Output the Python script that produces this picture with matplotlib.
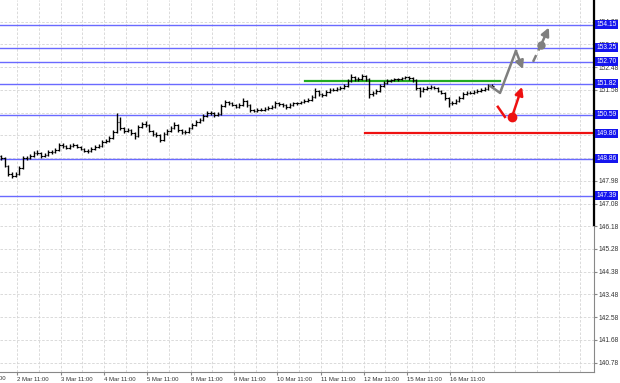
import matplotlib
matplotlib.use("Agg")
import matplotlib.pyplot as plt
from matplotlib.transforms import blended_transform_factory

plt.rcParams['font.family'] = ['Liberation Sans', 'DejaVu Sans']

# 2-hour bars, x = hours from the "2 Mar 11:00" tick
bar_hours = [-9 + 2 * i for i in range(137)]
first_open = 148.95
closes = [148.89, 148.57, 148.26, 148.18, 148.26, 148.49, 148.89, 148.89, 148.97, 149.09,
          149.09, 148.97, 149.01, 149.13, 149.13, 149.21, 149.40, 149.36, 149.29, 149.36,
          149.40, 149.32, 149.25, 149.17, 149.17, 149.25, 149.32, 149.36, 149.52, 149.56,
          149.68, 149.92, 150.31, 150.07, 149.96, 150.00, 149.88, 149.76, 150.12, 150.23,
          150.20, 149.96, 149.84, 149.80, 149.60, 149.84, 149.96, 150.07, 150.20, 150.00,
          149.92, 149.92, 150.07, 150.20, 150.31, 150.39, 150.55, 150.67, 150.67, 150.59,
          150.63, 150.95, 151.10, 151.06, 150.99, 150.91, 150.99, 151.14, 150.99, 150.79,
          150.75, 150.79, 150.79, 150.83, 150.87, 150.91, 151.06, 151.02, 150.99, 150.91,
          150.99, 151.06, 151.06, 151.10, 151.14, 151.18, 151.30, 151.54, 151.42, 151.38,
          151.50, 151.58, 151.58, 151.62, 151.66, 151.74, 151.94, 152.09, 152.01, 152.01,
          152.13, 152.01, 151.42, 151.46, 151.54, 151.74, 151.86, 151.94, 151.97, 152.01,
          152.01, 152.05, 152.09, 152.05, 151.97, 151.66, 151.54, 151.62, 151.66, 151.70,
          151.66, 151.54, 151.46, 151.26, 151.06, 151.06, 151.14, 151.26, 151.42, 151.46,
          151.46, 151.50, 151.54, 151.58, 151.62, 151.74, 151.74]
highs = [149.02, 148.93, 148.62, 148.31, 148.33, 148.55, 148.96, 148.98, 149.05, 149.17,
         149.19, 149.12, 149.08, 149.20, 149.21, 149.28, 149.48, 149.47, 149.41, 149.44,
         149.48, 149.45, 149.37, 149.29, 149.25, 149.31, 149.39, 149.43, 149.59, 149.64,
         149.76, 150.01, 150.67, 150.52, 150.11, 150.08, 150.05, 149.92, 150.18, 150.32,
         150.35, 150.24, 150.00, 149.90, 149.84, 149.90, 150.03, 150.14, 150.30, 150.24,
         150.05, 150.00, 150.13, 150.27, 150.38, 150.47, 150.62, 150.75, 150.74, 150.70,
         150.70, 151.02, 151.18, 151.15, 151.10, 151.03, 151.06, 151.24, 151.19, 151.03,
         150.84, 150.86, 150.86, 150.89, 150.93, 150.98, 151.14, 151.11, 151.06, 151.03,
         151.05, 151.12, 151.12, 151.16, 151.20, 151.25, 151.38, 151.66, 151.58, 151.47,
         151.56, 151.64, 151.65, 151.68, 151.72, 151.81, 152.02, 152.20, 152.14, 152.10,
         152.22, 152.18, 152.05, 151.55, 151.61, 151.80, 151.92, 152.00, 152.03, 152.07,
         152.07, 152.11, 152.15, 152.14, 152.09, 152.01, 151.70, 151.68, 151.73, 151.77,
         151.75, 151.70, 151.58, 151.50, 151.30, 151.14, 151.21, 151.33, 151.49, 151.52,
         151.52, 151.56, 151.60, 151.64, 151.68, 151.82, 151.80]
lows = [148.80, 148.52, 148.18, 148.10, 148.12, 148.21, 148.45, 148.80, 148.84, 148.93,
        149.01, 148.90, 148.91, 148.97, 149.06, 149.08, 149.17, 149.28, 149.22, 149.24,
        149.31, 149.26, 149.19, 149.11, 149.10, 149.12, 149.20, 149.27, 149.31, 149.47,
        149.51, 149.63, 149.88, 149.98, 149.87, 149.90, 149.80, 149.62, 149.72, 150.08,
        150.12, 149.90, 149.76, 149.70, 149.52, 149.55, 149.80, 149.92, 150.03, 149.93,
        149.85, 149.84, 149.88, 150.02, 150.15, 150.26, 150.34, 150.50, 150.60, 150.52,
        150.54, 150.58, 150.90, 151.00, 150.93, 150.85, 150.86, 150.95, 150.92, 150.72,
        150.69, 150.71, 150.73, 150.75, 150.79, 150.83, 150.87, 150.96, 150.92, 150.84,
        150.86, 150.94, 151.00, 151.02, 151.06, 151.10, 151.14, 151.26, 151.35, 151.31,
        151.33, 151.45, 151.52, 151.54, 151.58, 151.61, 151.70, 151.90, 151.95, 151.94,
        151.97, 151.93, 151.26, 151.33, 151.40, 151.50, 151.70, 151.82, 151.90, 151.93,
        151.95, 151.97, 152.01, 151.99, 151.91, 151.58, 151.30, 151.48, 151.57, 151.62,
        151.60, 151.48, 151.40, 151.18, 150.91, 150.98, 151.02, 151.10, 151.22, 151.38,
        151.40, 151.42, 151.46, 151.50, 151.54, 151.58, 151.66]

# levels
blue_levels = [154.15, 153.25, 152.70, 151.82, 150.59, 148.86, 147.39]
red_level = 149.86
red_start = 192.6
green_level = 151.93
green_span = [159.4, 267.5]

# forecast sketch (hour, price)
gray_path_x = [262.0, 267.5, 276.3]
gray_path_y = [151.74, 151.46, 153.12]
gray_tip = (280.2, 152.40)
gray_dash_x = [285.8, 290.2]
gray_dash_y = [152.69, 153.36]
gray_dash_tip = (294.6, 154.05)
red_dash_x = [266.3, 270.2]
red_dash_y = [150.91, 150.51]
red_dot = (274.1, 150.50)
red_tip = (279.7, 151.70)

y_ticks = [140.78, 141.68, 142.58, 143.48, 144.38, 145.28, 146.18, 147.08, 147.98,
           148.88, 149.78, 150.68, 151.58, 152.48, 153.38, 154.28]
day_labels = ['1 Mar 11:00', '2 Mar 11:00', '3 Mar 11:00', '4 Mar 11:00', '5 Mar 11:00',
              '8 Mar 11:00', '9 Mar 11:00', '10 Mar 11:00', '11 Mar 11:00', '12 Mar 11:00',
              '15 Mar 11:00', '16 Mar 11:00']
day_hours = [24 * (i - 1) for i in range(len(day_labels))]

fig = plt.figure(figsize=(6.2, 3.83), dpi=100)
ax = fig.add_axes([0, 11.3 / 383, 594 / 620, 1 - 11.3 / 383])
ax.set_xlim(-9.7, 319.6)
ax.set_ylim(140.42, 155.14)

# grid
for h in range(-12, 320, 12):
    ax.axvline(h, color='#d4d4d4', lw=0.6, ls=(0, (3, 2)), zorder=0)
for t in y_ticks:
    ax.axhline(t, color='#d4d4d4', lw=0.6, ls=(0, (3, 2)), zorder=0)

# levels
for lv in blue_levels:
    ax.axhline(lv, color='#6a6aff', lw=1.0, zorder=1)
ax.plot([red_start, 319.6], [red_level, red_level], color='#ee1111', lw=1.6, zorder=2)
ax.plot(green_span, [green_level, green_level], color='#22aa22', lw=1.6, zorder=2)

# OHLC bars
opens = [first_open] + closes[:-1]
ax.vlines(bar_hours, lows, highs, color='black', lw=1.0, zorder=3)
ax.hlines(opens, [h - 0.9 for h in bar_hours], bar_hours, color='black', lw=0.8, zorder=3)
ax.hlines(closes, bar_hours, [h + 0.9 for h in bar_hours], color='black', lw=0.8, zorder=3)

# forecast sketch
ax.plot(gray_path_x, gray_path_y, color='#7f7f7f', lw=1.8, zorder=4)
ax.annotate('', xy=gray_tip, xytext=(gray_path_x[-1], gray_path_y[-1]),
            arrowprops=dict(arrowstyle='-|>', color='#7f7f7f', lw=1.8, mutation_scale=12,
                            shrinkA=0, shrinkB=0), zorder=4)
ax.plot(gray_dash_x, gray_dash_y, color='#7f7f7f', lw=1.8, ls=(0, (3, 2)), zorder=4)
ax.plot(gray_dash_x[-1], gray_dash_y[-1], 'o', color='#7f7f7f', ms=5, zorder=5)
ax.annotate('', xy=gray_dash_tip, xytext=(gray_dash_x[-1], gray_dash_y[-1]),
            arrowprops=dict(arrowstyle='-|>', color='#7f7f7f', lw=1.8, mutation_scale=12,
                            shrinkA=0, shrinkB=0), zorder=4)
ax.plot(red_dash_x, red_dash_y, color='#ee1111', lw=1.8, zorder=4)
ax.plot(*red_dot, 'o', color='#ee1111', ms=6, zorder=5)
ax.annotate('', xy=red_tip, xytext=red_dot,
            arrowprops=dict(arrowstyle='-|>', color='#ee1111', lw=1.8, mutation_scale=12,
                            shrinkA=0, shrinkB=0), zorder=4)

# axes styling
for s in ['left', 'top']:
    ax.spines[s].set_visible(False)
ax.spines['right'].set_color('#888888')
ax.spines['bottom'].set_color('#888888')
ax.spines['right'].set_linewidth(0.8)
ax.spines['bottom'].set_linewidth(0.8)
ax.plot([1, 1], [ax.transAxes.inverted().transform(ax.transData.transform((0, 146.24)))[1], 1],
        transform=ax.transAxes, color='black', lw=1.6, clip_on=False, zorder=6)

ax.yaxis.tick_right()
ax.set_yticks(y_ticks)
ax.set_yticklabels([f'{t:.2f}' for t in y_ticks], fontsize=4.8, color='#333333')
ax.tick_params(axis='y', length=2, pad=1.2, color='#888888')

ax.set_xticks(day_hours[1:])
ax.set_xticklabels(day_labels[1:], fontsize=4.3, color='#333333', ha='left')
ax.tick_params(axis='x', length=2, pad=1.5, color='#888888')
ax.text(day_hours[0], -0.012, day_labels[0], transform=blended_transform_factory(ax.transData, ax.transAxes),
        fontsize=4.3, color='#333333', ha='left', va='top', clip_on=False)

# level price boxes
trans = blended_transform_factory(ax.transAxes, ax.transData)
for lv in blue_levels + [red_level]:
    ax.text(1.004, lv, f'{lv:.2f}', transform=trans, fontsize=4.8, color='white', va='center', ha='left',
            bbox=dict(boxstyle='square,pad=0.15', fc='#1515ee', ec='none'), clip_on=False, zorder=7)

fig.savefig('out.png', dpi=100, facecolor='white')
